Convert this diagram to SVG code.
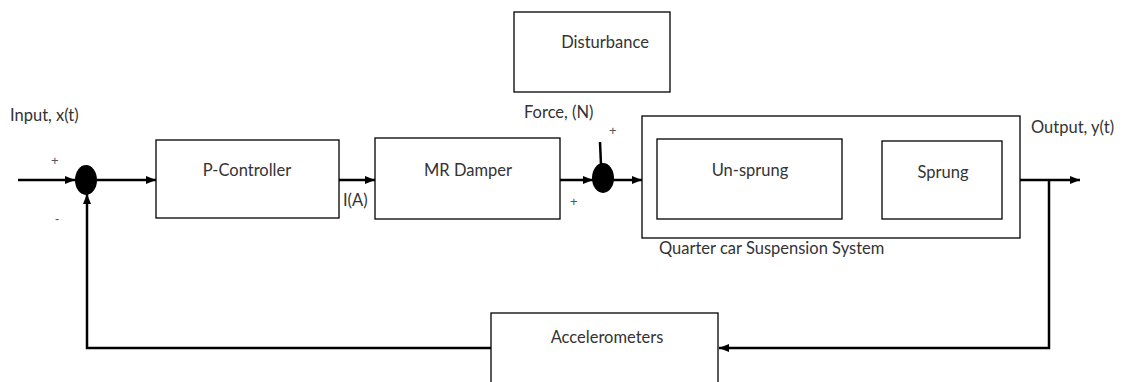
<svg xmlns="http://www.w3.org/2000/svg" width="1123" height="382" viewBox="0 0 1123 382">
<style>
.box{fill:#fff;stroke:#000;stroke-width:1.3}
.lbl{font-family:Lato,"Open Sans","Liberation Sans",sans-serif;font-size:16.5px;fill:#333}
.mid{text-anchor:middle}
.sgn{font-family:"Liberation Sans",sans-serif;font-size:13px;fill:#555}
.wire{fill:none;stroke:#000;stroke-width:2.5}
</style>
<defs>
<marker id="ah" markerWidth="10" markerHeight="8" refX="10" refY="4" orient="auto" markerUnits="userSpaceOnUse">
<path d="M0,0 L10,4 L0,8 Z" fill="#000"/>
</marker>
</defs>
<rect width="1123" height="382" fill="#fff"/>
<g id="connectors">
<path class="wire" d="M18,180 L75,180" marker-end="url(#ah)"/>
<path class="wire" d="M97,180 L156,180" marker-end="url(#ah)"/>
<path class="wire" d="M339,180 L375,180" marker-end="url(#ah)"/>
<path class="wire" d="M560,180 L593,180" marker-end="url(#ah)"/>
<path class="wire" d="M600,142 L601,165"/>
<path class="wire" d="M613,180 L642,180" marker-end="url(#ah)"/>
<path class="wire" d="M842,180 L882,180" marker-end="url(#ah)"/>
<path class="wire" d="M1020,180 L1080,180" marker-end="url(#ah)"/>
<path class="wire" d="M1049,180 L1049,348 L719,348" marker-end="url(#ah)"/>
<path class="wire" d="M491,348 L87,348 L87,194" marker-end="url(#ah)"/>
</g>
<g id="sum1"><ellipse cx="86" cy="180" rx="11" ry="15" fill="#000"/></g>
<g id="sum2"><ellipse cx="603" cy="178" rx="11" ry="15" fill="#000"/></g>
<g id="p-controller"><rect class="box" x="156" y="140" width="183" height="78"/><text class="lbl mid" x="247" y="176">P-Controller</text></g>
<g id="mr-damper"><rect class="box" x="375" y="138" width="185" height="81"/><text class="lbl mid" x="468" y="176">MR Damper</text></g>
<g id="disturbance"><rect class="box" x="514" y="12" width="156" height="80"/><text class="lbl mid" x="605" y="48">Disturbance</text></g>
<g id="quarter-car"><rect class="box" x="642" y="116" width="378" height="122"/><text class="lbl" x="659" y="254">Quarter car Suspension System</text></g>
<g id="unsprung"><rect class="box" x="657" y="139" width="185" height="80"/><text class="lbl mid" x="750" y="176">Un-sprung</text></g>
<g id="sprung"><rect class="box" x="882" y="141" width="120" height="78"/><text class="lbl mid" x="943" y="178">Sprung</text></g>
<g id="accelerometers"><rect class="box" x="491" y="313" width="227" height="80"/><text class="lbl mid" x="607" y="343">Accelerometers</text></g>
<g id="labels">
<text class="lbl" x="10" y="121">Input, x(t)</text>
<text class="sgn" x="51" y="165">+</text>
<text class="sgn" x="55" y="223">-</text>
<text class="lbl" x="343" y="206">I(A)</text>
<text class="lbl" x="524" y="118">Force, (N)</text>
<text class="sgn" x="609" y="135">+</text>
<text class="sgn" x="570" y="206">+</text>
<text class="lbl" x="1031" y="133">Output, y(t)</text>
</g>
</svg>
